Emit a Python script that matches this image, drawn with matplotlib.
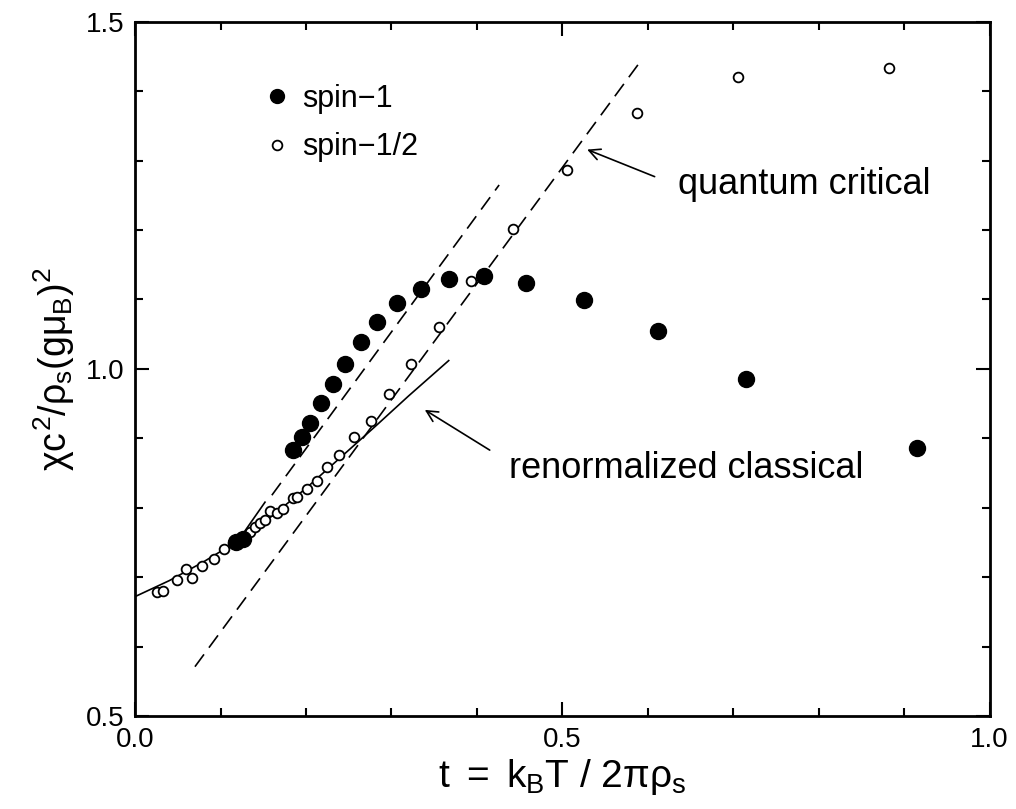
import matplotlib.pyplot as plt
from matplotlib.lines import Line2D

plt.rcParams['font.family'] = ['Liberation Sans', 'DejaVu Sans']
plt.rcParams['mathtext.fontset'] = 'custom'
plt.rcParams['mathtext.rm'] = 'Liberation Sans'
plt.rcParams['mathtext.it'] = 'Liberation Sans'
plt.rcParams['mathtext.bf'] = 'Liberation Sans:bold'
plt.rcParams['lines.scale_dashes'] = False

# spin-1 (filled circles)
t_spin1 = [0.118, 0.126, 0.185, 0.195, 0.205, 0.218, 0.232, 0.246, 0.264, 0.283,
           0.306, 0.335, 0.367, 0.408, 0.458, 0.525, 0.612, 0.715, 0.915]
chi_spin1 = [0.751, 0.755, 0.883, 0.902, 0.922, 0.951, 0.978, 1.007, 1.039, 1.068,
             1.095, 1.115, 1.130, 1.134, 1.124, 1.099, 1.055, 0.986, 0.886]

# spin-1/2 (open circles)
t_spin_half = [0.026, 0.033, 0.049, 0.060, 0.067, 0.078, 0.092, 0.104, 0.115, 0.129,
               0.135, 0.140, 0.146, 0.152, 0.158, 0.166, 0.173, 0.185, 0.189, 0.201,
               0.213, 0.225, 0.239, 0.256, 0.276, 0.297, 0.323, 0.356, 0.393, 0.442,
               0.505, 0.587, 0.706, 0.882]
chi_spin_half = [0.679, 0.680, 0.696, 0.712, 0.699, 0.716, 0.726, 0.741, 0.749, 0.758,
                 0.765, 0.772, 0.778, 0.782, 0.795, 0.793, 0.798, 0.814, 0.816, 0.827,
                 0.839, 0.859, 0.876, 0.902, 0.925, 0.964, 1.007, 1.061, 1.127, 1.202,
                 1.287, 1.369, 1.421, 1.434]

# renormalized classical curve (solid)
t_rc = [0.0, 0.04, 0.08, 0.12, 0.16, 0.20, 0.24, 0.28, 0.32, 0.367]
chi_rc = [0.672, 0.695, 0.722, 0.752, 0.788, 0.828, 0.872, 0.916, 0.961, 1.012]

# short solid segment near t ~ 0.13
t_seg = [0.118, 0.152]
chi_seg = [0.748, 0.808]

# quantum critical lines (dashed)
t_qc1 = [0.160, 0.426]
chi_qc1 = [0.818, 1.265]
t_qc2 = [0.070, 0.589]
chi_qc2 = [0.571, 1.439]

fig = plt.figure(figsize=(10.16, 8.09), dpi=100)
ax = fig.add_axes([0.133, 0.115, 0.841, 0.858])

ax.plot(t_rc, chi_rc, color='black', lw=1.2)
ax.plot(t_seg, chi_seg, color='black', lw=1.2)
ax.plot(t_qc1, chi_qc1, color='black', lw=1.2, dashes=(11, 6))
ax.plot(t_qc2, chi_qc2, color='black', lw=1.2, dashes=(11, 6))

ax.plot(t_spin_half, chi_spin_half, 'o', ms=7, mfc='white', mec='black', mew=1.3)
ax.plot(t_spin1, chi_spin1, 'o', ms=11.5, mfc='black', mec='black')

ax.set_xlim(0, 1.0)
ax.set_ylim(0.5, 1.5)
ax.set_xticks([0.0, 0.5, 1.0])
ax.set_xticklabels(['0.0', '0.5', '1.0'])
ax.set_yticks([0.5, 1.0, 1.5])
ax.set_yticklabels(['0.5', '1.0', '1.5'])
ax.set_xticks([0.1, 0.2, 0.3, 0.4, 0.6, 0.7, 0.8, 0.9], minor=True)
ax.set_yticks([0.6, 0.7, 0.8, 0.9, 1.1, 1.2, 1.3, 1.4], minor=True)
ax.tick_params(which='both', direction='in', top=True, right=True, width=1.5)
ax.tick_params(which='major', length=10, labelsize=20, pad=8)
ax.tick_params(which='minor', length=6)
for s in ax.spines.values():
    s.set_linewidth(2.0)

ax.set_xlabel(r'$t\ =\ k_B T\ /\ 2\pi\rho_s$', fontsize=28, labelpad=3)
ax.set_ylabel(r'$\chi c^2/\rho_s(g\mu_B)^2$', fontsize=27, labelpad=6)

handles = [Line2D([], [], ls='none', marker='o', ms=10, mfc='black', mec='black'),
           Line2D([], [], ls='none', marker='o', ms=7, mfc='white', mec='black', mew=1.3)]
ax.legend(handles, ['spin\u22121', 'spin\u22121/2'], loc='upper left',
          bbox_to_anchor=(0.12, 0.95), frameon=False, fontsize=22,
          handlelength=0.8, handletextpad=0.4, labelspacing=0.6)

ax.text(0.635, 1.265, 'quantum critical', fontsize=26, va='center', ha='left')
ax.annotate('', xy=(0.529, 1.316), xytext=(0.608, 1.277),
            arrowprops=dict(arrowstyle='->', color='black', lw=1.2,
                            shrinkA=0, shrinkB=0, mutation_scale=20))
ax.text(0.437, 0.857, 'renormalized classical', fontsize=26, va='center', ha='left')
ax.annotate('', xy=(0.339, 0.941), xytext=(0.415, 0.883),
            arrowprops=dict(arrowstyle='->', color='black', lw=1.2,
                            shrinkA=0, shrinkB=0, mutation_scale=20))

fig.savefig('out.png', dpi=100)
